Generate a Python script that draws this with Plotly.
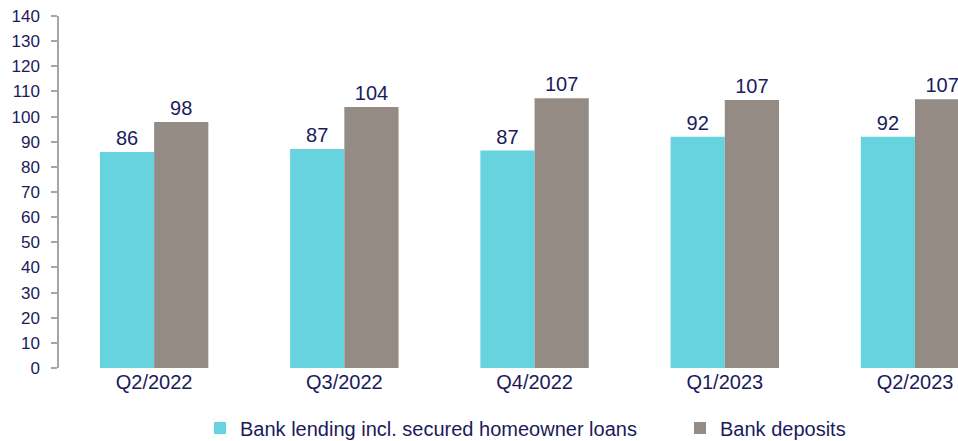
import plotly.graph_objects as go

categories = ["Q2/2022", "Q3/2022", "Q4/2022", "Q1/2023", "Q2/2023"]
lending = [85.9, 87.1, 86.5, 92.0, 92.0]
deposits = [97.8, 103.8, 107.3, 106.6, 106.9]
series_names = ["Bank lending incl. secured homeowner loans", "Bank deposits"]
y_ticks = list(range(0, 141, 10))

navy = "#1b1b5c"
fam = "Liberation Sans, Arial, sans-serif"
font_big = dict(family=fam, size=20, color=navy)
font_y = dict(family=fam, size=17, color=navy)

fig = go.Figure()
fig.add_trace(go.Bar(
    x=categories, y=lending, name=series_names[0],
    marker=dict(color="#67D3DF", line=dict(width=0)),
    texttemplate="%{y:.0f}", textposition="outside",
    textfont=font_big, cliponaxis=False, legend="legend",
))
fig.add_trace(go.Bar(
    x=categories, y=deposits, name=series_names[1],
    marker=dict(color="#948B85", line=dict(width=0)),
    texttemplate="%{y:.0f}", textposition="outside",
    textfont=font_big, cliponaxis=False, legend="legend2",
))

legend_common = dict(orientation="h", xref="container", yref="container",
                     y=0.0295, xanchor="left", yanchor="middle",
                     font=font_big, itemwidth=30, bgcolor="rgba(0,0,0,0)")

fig.update_layout(
    width=958, height=441,
    margin=dict(l=59, r=0, t=16, b=73),
    paper_bgcolor="white", plot_bgcolor="white",
    font=font_big,
    barmode="group", bargap=0.43, bargroupgap=0,
    showlegend=True,
    legend=dict(x=200 / 958, **legend_common),
    legend2=dict(x=680 / 958, **legend_common),
    xaxis=dict(range=[-0.5, 4.226], showline=False, ticks="", showgrid=False,
               tickfont=font_big, automargin=False, fixedrange=True),
    yaxis=dict(range=[0, 140], tickvals=y_ticks, showgrid=False, zeroline=False,
               showline=True, linecolor="#a6a6a6", linewidth=1.5,
               ticks="outside", ticklen=6, tickcolor="#a6a6a6", tickwidth=1.5,
               tickfont=font_y, ticklabelstandoff=8, automargin=False),
)

fig.write_html("out.html", config={"displayModeBar": False},
               post_script="document.body.style.margin='0';")
